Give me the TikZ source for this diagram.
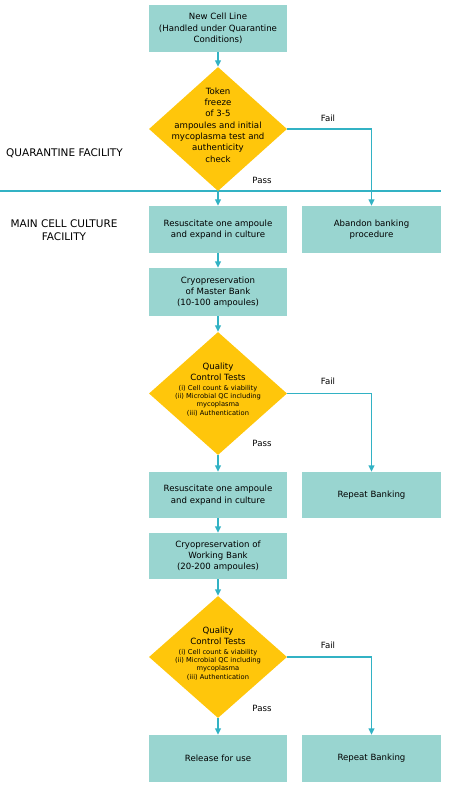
\documentclass[tikz,border=0pt]{standalone}
\usepackage{fontspec}
\setmainfont{DejaVu Sans}
\usetikzlibrary{shapes.geometric,arrows.meta}
\definecolor{boxteal}{RGB}{153,213,208}
\definecolor{diagold}{RGB}{255,198,11}
\definecolor{linecol}{RGB}{50,178,196}
\tikzset{
  box/.style={fill=boxteal, draw=none, minimum width=138pt, minimum height=47pt, inner sep=0pt, align=center, font=\fontsize{8.6}{11.3}\selectfont},
  dia/.style={diamond, fill=diagold, draw=none, minimum width=138pt, minimum height=123pt, inner sep=0pt},
  diatext/.style={align=center, inner sep=0pt, font=\fontsize{8.6}{11.3}\selectfont},
  conn/.style={draw=linecol, line width=1.4pt, -{Triangle[length=6.5pt,width=6pt]}},
  lbl/.style={font=\fontsize{8.6}{10}\selectfont, inner sep=0pt},
  side/.style={font=\fontsize{10.5}{12.5}\selectfont, align=center, inner sep=0pt}
}
\newcommand{\smtxt}[1]{{\fontsize{6.7}{8}\selectfont #1}}
\begin{document}
\begin{tikzpicture}[x=1pt,y=-1pt]
\useasboundingbox (0,0) rectangle (448,786);
% separator
\coordinate (sepL) at (0,191);
\coordinate (sepR) at (441,191);
\draw[draw=linecol, line width=1.3pt] (sepL) -- (sepR);
% side labels
\node[side] (q) at (64.5,153) {QUARANTINE FACILITY};
\node[side] (m) at (64,230) {MAIN CELL CULTURE\\FACILITY};
% nodes
\node[box] (new) at (218,28.5) {New Cell Line\\(Handled under Quarantine\\Conditions)};
\node[dia, minimum height=124pt] (d1) at (218,129) {};
\node[diatext] (t1) at (218,125) {Token\\freeze\\of 3-5\\ampoules and initial\\mycoplasma test and\\authenticity\\check};
\node[box] (res1) at (218,229.5) {Resuscitate one ampoule\\and expand in culture};
\node[box, minimum width=139pt] (aband) at (371.5,229.5) {Abandon banking\\procedure};
\node[box, minimum height=48pt] (cryo1) at (218,292) {Cryopreservation\\of Master Bank\\(10-100 ampoules)};
\node[dia] (d2) at (218,393.5) {};
\node[diatext] (t2) at (218,389.5) {Quality\\Control Tests\\[-2pt]\smtxt{(i) Cell count \& viability}\\[-3pt]\smtxt{(ii) Microbial QC including}\\[-3pt]\smtxt{mycoplasma}\\[-3pt]\smtxt{(iii) Authentication}};
\node[box, minimum height=46pt] (res2) at (218,495) {Resuscitate one ampoule\\and expand in culture};
\node[box, minimum width=139pt, minimum height=46pt] (rep1) at (371.5,495) {Repeat Banking};
\node[box, minimum height=46pt] (cryo2) at (218,556) {Cryopreservation of\\Working Bank\\(20-200 ampoules)};
\node[dia, minimum height=122pt] (d3) at (218,657) {};
\node[diatext] (t3) at (218,653.5) {Quality\\Control Tests\\[-2pt]\smtxt{(i) Cell count \& viability}\\[-3pt]\smtxt{(ii) Microbial QC including}\\[-3pt]\smtxt{mycoplasma}\\[-3pt]\smtxt{(iii) Authentication}};
\node[box] (rel) at (218,758.5) {Release for use};
\node[box, minimum width=139pt] (rep2) at (371.5,758.5) {Repeat Banking};
% connectors
\draw[conn] (new) -- (d1);
\draw[conn] (d1) -- (res1);
\draw[conn] (d1.east) -| (aband.north);
\draw[conn] (res1) -- (cryo1);
\draw[conn] (cryo1) -- (d2);
\draw[conn] (d2) -- (res2);
\draw[conn] (d2.east) -| (rep1.north);
\draw[conn] (res2) -- (cryo2);
\draw[conn] (cryo2) -- (d3);
\draw[conn] (d3) -- (rel);
\draw[conn] (d3.east) -| (rep2.north);
% labels
\node[lbl] (f1) at (328,118) {Fail};
\node[lbl] (p1) at (262,180) {Pass};
\node[lbl] (f2) at (328,381) {Fail};
\node[lbl] (p2) at (262,443) {Pass};
\node[lbl] (f3) at (328,645) {Fail};
\node[lbl] (p3) at (262,708) {Pass};
\end{tikzpicture}
\end{document}
